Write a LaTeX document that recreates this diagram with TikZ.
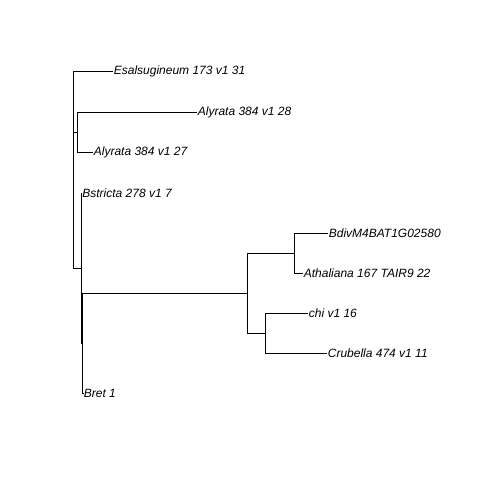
\documentclass[tikz,border=0pt]{standalone}
\usepackage{fontspec}
\setmainfont{Liberation Sans}
\begin{document}
\begin{tikzpicture}[x=1pt, y=-1pt, line width=0.7pt,
    every node/.style={anchor=west, inner sep=0.5pt, font=\itshape\fontsize{12}{14}\selectfont}]
    \useasboundingbox (0,0) rectangle (480,480);
    \coordinate (r) at (73.5,170);
    \coordinate (a) at (77,132);
    \coordinate (b) at (81,268);
    \coordinate (c) at (82.5,343);
    \coordinate (d) at (247,293);
    \coordinate (e) at (294,253);
    \coordinate (f) at (265,333);
    \foreach \n/\x/\y/\t in {esal/113/71/Esalsugineum 173 v1 31,
                             alyb/197/112/Alyrata 384 v1 28,
                             alya/93/152/Alyrata 384 v1 27,
                             bstr/81.5/193/Bstricta 278 v1 7,
                             bdiv/328/233/BdivM4BAT1G02580,
                             atha/303/273/Athaliana 167 TAIR9 22,
                             chi/308/313/chi v1 16,
                             crub/327/353/Crubella 474 v1 11,
                             bret/83/393/Bret 1}
        \node (\n) at (\x,\y) {\t};
    \foreach \p/\c in {r/esal, r/a, r/b, a/alyb, a/alya, b/bstr, b/c,
                       c/d, c/bret, d/e, d/f, e/bdiv, e/atha, f/chi, f/crub}
        \draw (\p) |- (\c);
\end{tikzpicture}
\end{document}
